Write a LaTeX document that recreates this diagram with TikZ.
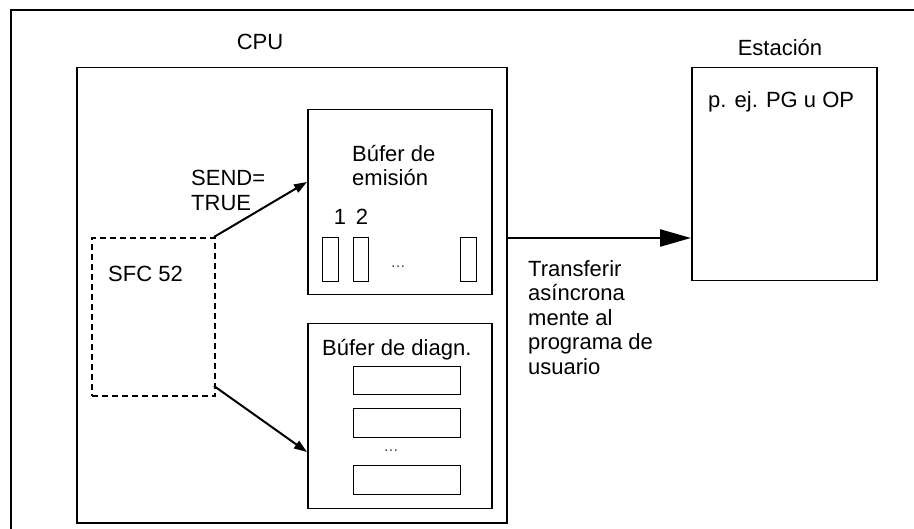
\documentclass[tikz,border=0pt]{standalone}
\usepackage{fontspec}
\setmainfont{Liberation Sans}
\usetikzlibrary{arrows.meta}
\begin{document}
\begin{tikzpicture}[x=1pt,y=-1pt,
  box/.style={draw, line width=1.5pt, rectangle, inner sep=0pt, anchor=north west},
  slot/.style={draw, line width=1.3pt, rectangle, inner sep=0pt, anchor=north west},
  lbl/.style={font=\fontsize{22}{24.5}\selectfont, inner sep=0pt},
  dots/.style={font=\fontsize{15}{16}\selectfont, inner sep=0pt, text=black!80},
  arr/.style={line width=2pt, -{Triangle[length=13pt,width=9pt]}},
  bigarr/.style={line width=2.5pt, -{Triangle[length=31pt,width=17pt]}}]
\useasboundingbox (0,0) rectangle (914,529);
% outer frame
\draw[line width=1.5pt] (11,529) -- (11,10) -- (914,10);
% CPU
\node[lbl] (cpulbl) at (260,42) {CPU};
\node[box, minimum width=430pt, minimum height=455pt] (cpu) at (76,67) {};
% send buffer
\node[box, minimum width=184pt, minimum height=185pt] (send) at (307,109) {};
\node[lbl, anchor=north west, align=left] (sendlbl) at (352,145) {Búfer de\\emisión};
\node[lbl] (n1) at (340,217) {1};
\node[lbl] (n2) at (362,217) {2};
\node[slot, minimum width=16pt, minimum height=44pt] (s1) at (322,237) {};
\node[slot, minimum width=15pt, minimum height=44pt] (s2) at (353,237) {};
\node[slot, minimum width=16pt, minimum height=44pt] (s3) at (460,237) {};
\node[dots] (d1) at (398,267) {\dots};
% diag buffer
\node[box, minimum width=184pt, minimum height=185pt] (diag) at (307,323) {};
\node[lbl, anchor=west] (diaglbl) at (322,350) {Búfer de diagn.};
\node[slot, minimum width=107pt, minimum height=28pt] (r1) at (353,366) {};
\node[slot, minimum width=107pt, minimum height=29pt] (r2) at (353,408) {};
\node[dots] (d2) at (391,451) {\dots};
\node[slot, minimum width=107pt, minimum height=29pt] (r3) at (353,465) {};
% SFC 52
\node[draw, line width=1.7pt, dash pattern=on 6pt off 4pt, rectangle, inner sep=0pt,
  anchor=north west, minimum width=123pt, minimum height=158pt] (sfc) at (91,237) {};
\node[lbl, anchor=west] (sfclbl) at (108,274) {SFC 52};
\node[lbl, anchor=north west, align=left] (sendtrue) at (191,170) {SEND=\\TRUE};
% station
\node[lbl] (stlbl) at (780,48) {Estación};
\node[box, minimum width=185pt, minimum height=213pt] (st) at (691,67) {};
\node[lbl, anchor=west] (stin) at (708,102) {p. ej. PG u OP};
\node[lbl, anchor=north west, align=left] (transf) at (528,260)
  {Transferir\\asíncrona\\mente al\\programa de\\usuario};
% connectors
\coordinate (a1s) at (214,237);
\coordinate (a1e) at (307,182);
\coordinate (a2s) at (214,386);
\coordinate (a2e) at (307,452);
\coordinate (a3s) at (506,238);
\coordinate (a3e) at (691,238);
\draw[arr] (a1s) -- (a1e);
\draw[arr] (a2s) -- (a2e);
\draw[bigarr] (a3s) -- (a3e);
\end{tikzpicture}
\end{document}
